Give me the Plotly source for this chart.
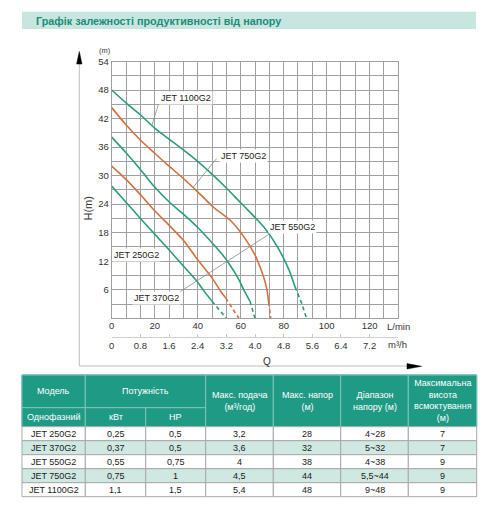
import plotly.graph_objects as go

W, H = 504, 512


def px(x):
    return x / W


def py(y):
    return 1 - y / H


# ---- curve data (Q in m3/h, H in m) ----
jet250_q = [0, 0.4, 0.8, 1.2, 1.6, 2.0, 2.4, 2.6, 2.8]
jet250_h = [27.8, 24.4, 21.0, 17.7, 14.4, 11.0, 7.6, 5.5, 3.6]
jet250_tail_q = [2.8, 3.0, 3.2]
jet250_tail_h = [3.6, 1.9, 0]

jet370_q = [0, 0.4, 0.8, 1.2, 1.6, 2.0, 2.4, 2.8, 3.05, 3.18]
jet370_h = [32.0, 29.2, 26.0, 22.6, 19.6, 16.4, 12.3, 8.5, 5.6, 4.3]
jet370_tail_q = [3.18, 3.38, 3.55]
jet370_tail_h = [4.3, 2.1, 0]

jet550_q = [0, 0.4, 0.8, 1.2, 1.6, 2.0, 2.4, 2.8, 3.1, 3.3, 3.53, 3.72, 3.86]
jet550_h = [38.1, 34.8, 31.3, 27.6, 24.5, 21.9, 19.1, 15.9, 13.3, 11.2, 8.4, 5.5, 3.6]
jet550_tail_q = [3.86, 3.94, 4.0]
jet550_tail_h = [3.6, 1.8, 0]

jet750_q = [0, 0.4, 0.8, 1.2, 1.6, 2.0, 2.4, 2.85, 3.35, 3.72, 4.0, 4.19, 4.33, 4.38]
jet750_h = [44.3, 40.7, 37.5, 34.7, 32.0, 29.4, 26.6, 23.3, 20.3, 16.8, 13.3, 9.8, 6.2, 3.4]
jet750_tail_q = [4.38, 4.41, 4.44]
jet750_tail_h = [3.4, 1.7, 0]

jet1100_q = [0, 0.4, 0.8, 1.2, 1.6, 2.0, 2.4, 2.8, 3.2, 3.6, 3.81, 4.28, 4.65, 4.93, 5.12]
jet1100_h = [48.0, 45.3, 42.8, 40.0, 37.7, 35.4, 33.0, 30.3, 27.4, 24.3, 22.7, 18.9, 14.7, 10.5, 6.6]
jet1100_tail_q = [5.12, 5.3, 5.44]
jet1100_tail_h = [6.6, 3.2, 0]

# ---- axis labels ----
lmin_ticks = [0, 20, 40, 60, 80, 100, 120]
m3h_ticks = [0, 0.8, 1.6, 2.4, 3.2, 4.0, 4.8, 5.6, 6.4, 7.2]
head_ticks = [6, 12, 18, 24, 30, 36, 42, 48, 54]

# ---- table data ----
models = ["JET 250G2", "JET 370G2", "JET 550G2", "JET 750G2", "JET 1100G2"]
power_kw = ["0,25", "0,37", "0,55", "0,75", "1,1"]
power_hp = ["0,5", "0,5", "0,75", "1", "1,5"]
max_flow = ["3,2", "3,6", "4", "4,5", "5,4"]
max_head = ["28", "32", "38", "44", "48"]
head_range = ["4~28", "5~32", "4~38", "5,5~44", "9~48"]
suction = ["7", "7", "9", "9", "9"]

TEAL = "#2a9c80"
ORANGE = "#d2703f"
GRID = "#a0a0a0"
FONT = "Liberation Sans, Arial, sans-serif"

fig = go.Figure()

curves = [
    (jet250_q, jet250_h, jet250_tail_q, jet250_tail_h, TEAL),
    (jet370_q, jet370_h, jet370_tail_q, jet370_tail_h, ORANGE),
    (jet550_q, jet550_h, jet550_tail_q, jet550_tail_h, TEAL),
    (jet750_q, jet750_h, jet750_tail_q, jet750_tail_h, ORANGE),
    (jet1100_q, jet1100_h, jet1100_tail_q, jet1100_tail_h, TEAL),
]
for q, h, tq, th, col in curves:
    fig.add_trace(go.Scatter(x=q, y=h, mode="lines", line=dict(color=col, width=1.6, shape="spline", smoothing=0.8),
                             hoverinfo="skip", showlegend=False))
    fig.add_trace(go.Scatter(x=tq, y=th, mode="lines", line=dict(color=col, width=1.6, dash="4px,3px"),
                             hoverinfo="skip", showlegend=False))


def note(x, y, s, size=9, color="#333", ref="paper", **kw):
    fig.add_annotation(x=x, y=y, xref=ref if ref == "paper" else "x", yref=ref if ref == "paper" else "y",
                       text=s, showarrow=False, xanchor=kw.pop("xanchor", "center"),
                       yanchor=kw.pop("yanchor", "middle"),
                       font=dict(size=size, color=color, family=FONT), **kw)


# curve labels + leader lines
labels = [("JET 1100G2", 2.08, 46.3), ("JET 750G2", 3.69, 34.1), ("JET 550G2", 5.06, 19.1),
          ("JET 250G2", 0.70, 13.3), ("JET 370G2", 1.26, 4.2)]
for txt, lx, ly in labels:
    note(lx, ly, txt, 9, "#222", ref="data", bgcolor="white")
leaders = [(1.30, 44.9, 1.12, 40.5), (2.93, 33.6, 2.27, 27.5), (1.91, 5.6, 4.50, 18.2)]
for x0, y0, x1, y1 in leaders:
    fig.add_shape(type="line", xref="x", yref="y", x0=x0, y0=y0, x1=x1, y1=y1,
                  line=dict(color="#8a8a8a", width=0.8))

q_grid = [round(0.4 * i, 1) for i in range(21)]
h_grid = [3 * i for i in range(19)]

xdom = [px(111.7), px(398.3)]
ydom = [py(318.3), py(61.5)]

fig.update_layout(
    width=W, height=H, margin=dict(l=0, r=0, t=0, b=0, autoexpand=False),
    paper_bgcolor="white", plot_bgcolor="white",
    font=dict(family=FONT, size=9, color="#333"),
    xaxis=dict(domain=xdom, range=[0, 8], tickmode="array", tickvals=q_grid, showticklabels=False,
               showgrid=True, gridcolor=GRID, gridwidth=1, zeroline=False, ticks="",
               showline=True, mirror=True, linecolor=GRID, linewidth=1),
    xaxis2=dict(overlaying="x", anchor="y", side="bottom", range=[0, 8], tickmode="array",
                tickvals=[l * 0.06 for l in lmin_ticks], ticktext=[str(l) for l in lmin_ticks],
                showgrid=False, zeroline=False, ticks="", showline=False,
                tickfont=dict(size=9.5, color="#333")),
    xaxis3=dict(overlaying="x", anchor="free", position=py(336.5), side="bottom", range=[0, 8],
                tickmode="array", tickvals=m3h_ticks,
                ticktext=["0" if v == 0 else ("%.1f" % v) for v in m3h_ticks],
                showgrid=False, zeroline=False, ticks="inside", ticklen=3, tickcolor="#c4c4c4",
                showline=True, linecolor="#d0d0d0", linewidth=1, tickfont=dict(size=9.5, color="#333")),
    yaxis=dict(domain=ydom, range=[0, 54], tickmode="array", tickvals=h_grid,
               ticktext=[str(v) if v in head_ticks else "" for v in h_grid],
               showgrid=True, gridcolor=GRID, gridwidth=1, zeroline=False, ticks="",
               showline=True, mirror=True, linecolor=GRID, linewidth=1,
               tickfont=dict(size=9.5, color="#333")),
)

# dummy traces to activate overlay axes
fig.add_trace(go.Scatter(x=[0], y=[0], xaxis="x2", mode="markers", marker=dict(opacity=0),
                         hoverinfo="skip", showlegend=False))
fig.add_trace(go.Scatter(x=[0], y=[0], xaxis="x3", mode="markers", marker=dict(opacity=0),
                         hoverinfo="skip", showlegend=False))

# axis captions
note(px(398), py(326), "L/min", 9.5)
note(px(397), py(344.3), "m³/h", 9.5)
note(px(266.7), py(361), "Q", 10)
note(px(104.5), py(50.5), "(m)", 7.5)
note(px(87), py(208.5), "H(m)", 11, textangle=-90)

# frame with arrows
fig.add_shape(type="line", xref="paper", yref="paper", x0=px(79.3), y0=py(366), x1=px(79.3), y1=py(60),
              line=dict(color="#bdbdbd", width=1))
fig.add_shape(type="line", xref="paper", yref="paper", x0=px(79.3), y0=py(366), x1=px(410), y1=py(366),
              line=dict(color="#bdbdbd", width=1))
fig.add_shape(type="path", xref="paper", yref="paper",
              path="M %f %f L %f %f L %f %f Z" % (px(79.3), py(51.5), px(76.6), py(64), px(82), py(64)),
              fillcolor="black", line=dict(color="black", width=0.5))
fig.add_shape(type="path", xref="paper", yref="paper",
              path="M %f %f L %f %f L %f %f Z" % (px(421.5), py(366.3), px(407), py(363.6), px(407), py(369)),
              fillcolor="black", line=dict(color="black", width=0.5))

# title banner
fig.add_shape(type="rect", xref="paper", yref="paper", x0=px(22), y0=py(29), x1=px(476), y1=py(11.7),
              fillcolor="#c7e6df", line=dict(width=0))
note(px(34), py(20.5), "<b>Графік залежності продуктивності від напору</b>", 10.8, "#1c8c77", xanchor="left")

# ---- table ----
col_x = [22, 85.3, 145.7, 205.7, 273.3, 340.7, 408.3, 476.7]
head_top, head_mid, head_bot = 375, 407.7, 426.7
row_h = 14
HEAD_FILL = "#1f9a85"
HEAD_LINE = "#7ec6b8"
BODY_LINE = "#a8a8a8"
STRIPE = "#cfe8e2"


def cell(x0, y0, x1, y1, fill, line):
    fig.add_shape(type="rect", xref="paper", yref="paper", x0=px(x0), y0=py(y1), x1=px(x1), y1=py(y0),
                  fillcolor=fill, line=dict(color=line, width=1))


header_cells = [
    (0, 1, head_top, head_mid, "Модель"),
    (0, 1, head_mid, head_bot, "Однофазний"),
    (1, 3, head_top, head_mid, "Потужність"),
    (1, 2, head_mid, head_bot, "кВт"),
    (2, 3, head_mid, head_bot, "HP"),
    (3, 4, head_top, head_bot, "Макс. подача<br>(м³/год)"),
    (4, 5, head_top, head_bot, "Макс. напор<br>(м)"),
    (5, 6, head_top, head_bot, "Діапазон<br>напору (м)"),
    (6, 7, head_top, head_bot, "Максимальна<br>висота<br>всмоктування<br>(м)"),
]
cell(col_x[0], head_top, col_x[-1], head_bot, HEAD_FILL, HEAD_FILL)
for c0, c1, y0, y1, s in header_cells:
    cell(col_x[c0], y0, col_x[c1], y1, HEAD_FILL, HEAD_LINE)
    note(px((col_x[c0] + col_x[c1]) / 2), py((y0 + y1) / 2), s, 9, "white")

columns = [models, power_kw, power_hp, max_flow, max_head, head_range, suction]
for r in range(len(models)):
    y0 = head_bot + r * row_h
    fill = STRIPE if r % 2 else "white"
    for c, col in enumerate(columns):
        cell(col_x[c], y0, col_x[c + 1], y0 + row_h, fill, BODY_LINE)
        note(px((col_x[c] + col_x[c + 1]) / 2), py(y0 + row_h / 2), col[r], 9, "#1a1a1a")

# page body has a default margin; drop it so the figure sits at the window origin
fig.write_html("out.html", config={"displayModeBar": False, "staticPlot": True},
               post_script="document.body.style.margin='0';")
